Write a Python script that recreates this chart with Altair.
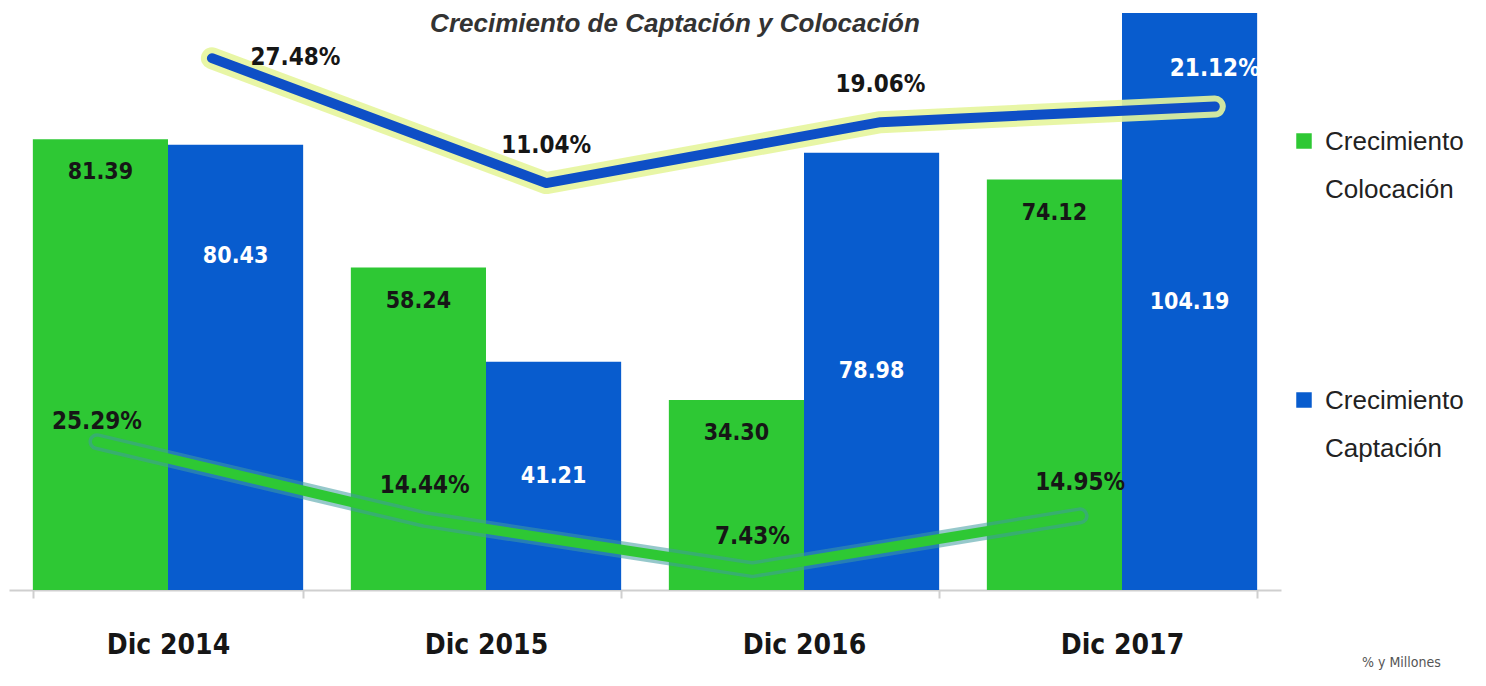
import altair as alt
import pandas as pd

# ---- data ----
categorias = ["Dic 2014", "Dic 2015", "Dic 2016", "Dic 2017"]
series = ["Crecimiento Colocación", "Crecimiento Captación"]
colocacion = [81.39, 58.24, 34.30, 74.12]          # millones
captacion = [80.43, 41.21, 78.98, 104.19]          # millones
pct_colocacion = [25.29, 14.44, 7.43, 14.95]       # % crecimiento colocación
pct_captacion = [27.48, 11.04, 19.06, 21.12]       # % crecimiento captación

GREEN = "#2ec834"
BLUE = "#085cce"
BLUE_LINE = "#0e4fc6"
DARK = "#161616"
NARROW = "'Liberation Sans Narrow', 'DejaVu Sans Condensed', 'Liberation Sans', sans-serif"
REG = "'Liberation Sans', sans-serif"

bars_df = pd.DataFrame({
    "cat": categorias * 2,
    "serie": [series[0]] * 4 + [series[1]] * 4,
    "valor": colocacion + captacion,
    "i": list(range(4)) * 2,
})
line_df = pd.DataFrame({
    "cat": categorias,
    "i": list(range(4)),
    "colocacion": pct_colocacion,
    "captacion": pct_captacion,
})

# ---- bars ----
x_bar = alt.X(
    "cat:N", sort=categorias, title=None,
    scale=alt.Scale(paddingInner=0.15, paddingOuter=0.075),
    axis=alt.Axis(labelAngle=0, labelFont=NARROW, labelFontSize=28, labelFontWeight="bold",
                  labelColor=DARK, labelPadding=45, tickBand="extent", tickSize=8,
                  tickColor="#cfcfcf", tickWidth=2, domainColor="#cfcfcf", domainWidth=2),
)
x_off = alt.XOffset("serie:N", sort=series, scale=alt.Scale(paddingInner=0, paddingOuter=0))
y_scale = alt.Scale(domain=[0, 104.75], nice=False, zero=True)

bars = alt.Chart(bars_df).mark_bar().encode(
    x=x_bar,
    xOffset=x_off,
    y=alt.Y("valor:Q", scale=y_scale, axis=None),
    color=alt.Color(
        "serie:N", sort=series,
        scale=alt.Scale(domain=series, range=[GREEN, BLUE]),
        legend=alt.Legend(
            title=None, orient="none", legendX=1282, legendY=118, direction="vertical",
            symbolType="square", symbolSize=240, symbolStrokeWidth=0, symbolOpacity=1,
            labelFont=REG, labelFontSize=26, labelColor="#222222", labelBaseline="top",
            labelExpr="split(datum.label, ' ')", labelLimit=400, labelOffset=8,
            rowPadding=184, padding=0,
        ),
    ),
)

bar_text = alt.Chart(bars_df).transform_calculate(
    ly=f"datum.serie == '{series[0]}' ? datum.valor - 5.96 : (datum.i == 0 ? datum.valor * 0.75 : datum.valor / 2)"
).mark_text(font=NARROW, fontSize=23, fontWeight="bold", baseline="middle").encode(
    x=x_bar,
    xOffset=x_off,
    y=alt.Y("ly:Q", scale=y_scale, axis=None),
    text=alt.Text("valor:Q", format=".2f"),
    color=alt.condition(alt.datum.serie == series[0], alt.value(DARK), alt.value("#ffffff")),
)

bars_layer = alt.layer(bars, bar_text)

# ---- blue line (crecimiento captación %) ----
xb_scale = alt.Scale(domain=[-0.607, 3.198], nice=False, zero=False)
yb_scale = alt.Scale(domain=[-42.5, 33.82], nice=False, zero=False)

blue_glow = alt.Chart(line_df).mark_line(
    color="#e6f59c", strokeWidth=22, strokeCap="round", strokeJoin="round", opacity=0.9
).encode(x=alt.X("i:Q", scale=xb_scale, axis=None),
         y=alt.Y("captacion:Q", scale=yb_scale, axis=None))
blue_line = alt.Chart(line_df).mark_line(
    color=BLUE_LINE, strokeWidth=10, strokeCap="round", strokeJoin="round"
).encode(x=alt.X("i:Q", scale=xb_scale, axis=None),
         y=alt.Y("captacion:Q", scale=yb_scale, axis=None))
blue_text = alt.Chart(line_df).transform_calculate(
    lx="datum.i == 0 ? datum.i + 0.25 : datum.i",
    ly="datum.i == 0 ? datum.captacion : datum.captacion + 4.9",
    lab="format(datum.captacion, '.2f') + '%'",
).mark_text(font=NARROW, fontSize=24, fontWeight="bold", baseline="middle").encode(
    x=alt.X("lx:Q", scale=xb_scale, axis=None),
    y=alt.Y("ly:Q", scale=yb_scale, axis=None),
    text="lab:N",
    color=alt.condition(alt.datum.i == 3, alt.value("#ffffff"), alt.value(DARK)),
)
blue_layer = alt.layer(blue_glow, blue_line, blue_text)

# ---- green line (crecimiento colocación %) ----
xg_scale = alt.Scale(domain=[-0.2685, 3.613], nice=False, zero=False)
yg_scale = alt.Scale(domain=[4.60, 85.5], nice=False, zero=False)

green_glow = alt.Chart(line_df).mark_line(
    color="#3f9aa0", strokeWidth=17, strokeCap="round", strokeJoin="round", opacity=0.55
).encode(x=alt.X("i:Q", scale=xg_scale, axis=None),
         y=alt.Y("colocacion:Q", scale=yg_scale, axis=None))
green_line = alt.Chart(line_df).mark_line(
    color=GREEN, strokeWidth=10, strokeCap="round", strokeJoin="round"
).encode(x=alt.X("i:Q", scale=xg_scale, axis=None),
         y=alt.Y("colocacion:Q", scale=yg_scale, axis=None))
green_text = alt.Chart(line_df).transform_calculate(
    ly="datum.i == 0 ? datum.colocacion + 2.7 : datum.colocacion + 4.6",
    lab="format(datum.colocacion, '.2f') + '%'",
).mark_text(font=NARROW, fontSize=24, fontWeight="bold", baseline="middle", color=DARK).encode(
    x=alt.X("i:Q", scale=xg_scale, axis=None),
    y=alt.Y("ly:Q", scale=yg_scale, axis=None),
    text="lab:N",
)
green_layer = alt.layer(green_glow, green_line, green_text)

# ---- unit note ----
note = alt.Chart(pd.DataFrame({"t": ["% y Millones"]})).mark_text(
    align="left", baseline="bottom", font=NARROW, fontSize=14, color="#555555"
).encode(x=alt.value(1353), y=alt.value(660), text="t:N")

chart = alt.layer(bars_layer, green_layer, blue_layer, note).resolve_scale(
    x="independent", y="independent"
).properties(
    width=1272,
    height=580,
    autosize=alt.AutoSizeParams(type="none"),
    padding={"left": 1, "top": 2, "right": 195, "bottom": 82},
    title=alt.TitleParams(
        "Crecimiento de Captación y Colocación", font=REG, fontSize=26, fontWeight="bold",
        fontStyle="italic", color="#333333", anchor="middle", dx=30, offset=-27,
    ),
).configure(
    background="white",
    style={"guide-label": {"lineHeight": 48, "dy": -12}},
).configure_view(strokeWidth=0)

chart.save("out.html", embed_options={"renderer": "svg", "actions": False})
